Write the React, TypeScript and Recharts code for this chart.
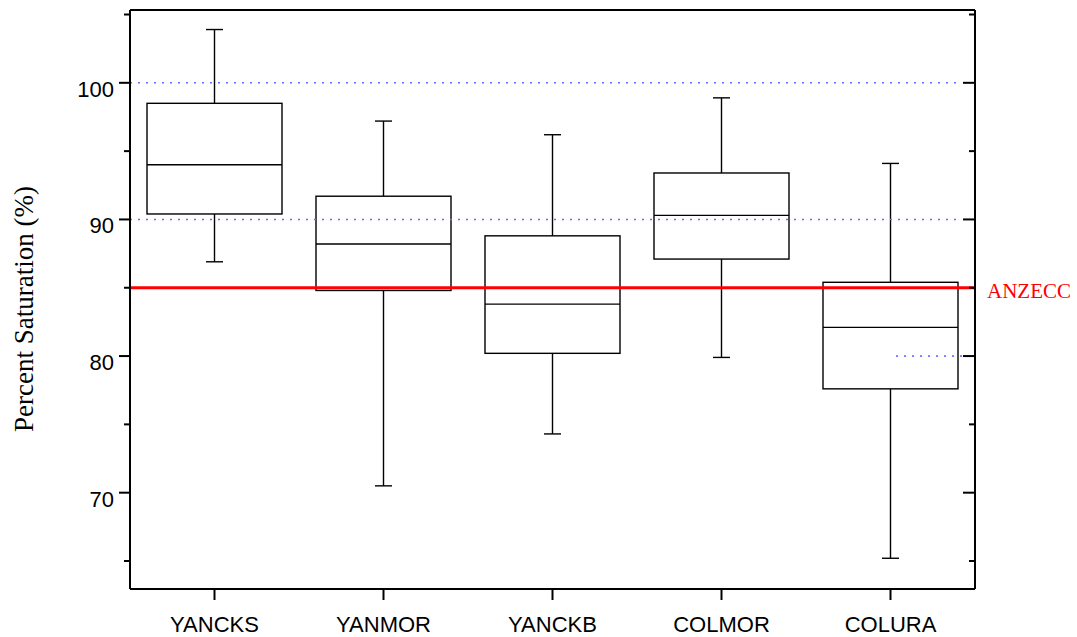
import React from "react";
import {
  Bar,
  ComposedChart,
  ReferenceLine,
  XAxis,
  YAxis,
} from "recharts";

const sites = ["YANCKS", "YANMOR", "YANCKB", "COLMOR", "COLURA"];
const whiskerLow = [86.9, 70.5, 74.3, 79.9, 65.2];
const q1 = [90.4, 84.8, 80.2, 87.1, 77.6];
const median = [94.0, 88.2, 83.8, 90.3, 82.1];
const q3 = [98.5, 91.7, 88.8, 93.4, 85.4];
const whiskerHigh = [103.9, 97.2, 96.2, 98.9, 94.1];

const majorTicks = [70, 80, 90, 100];
const minorTicks = [65, 75, 85, 95, 105];
const allTicks = [...minorTicks, ...majorTicks].sort((a, b) => a - b);

const anzecc = 85;
const guideLines = [90, 100];
const partialGuide = 80;

const data = sites.map((site, i) => ({
  site,
  pos: i + 0.5,
  range: [whiskerLow[i], whiskerHigh[i]],
  low: whiskerLow[i],
  q1: q1[i],
  median: median[i],
  q3: q3[i],
  high: whiskerHigh[i],
}));

const sans = "'Liberation Sans', Arial, sans-serif";
const serif = "'Liberation Serif', 'Times New Roman', serif";

function BoxShape(props: any) {
  const { x, y, width, height, payload } = props;
  if (payload == null || height == null) return null;
  const perUnit = height / (payload.high - payload.low);
  const toY = (v: number) => y + (payload.high - v) * perUnit;
  const cx = x + width / 2;
  const cap = 8.5;
  const yQ3 = toY(payload.q3);
  const yQ1 = toY(payload.q1);
  const yMed = toY(payload.median);
  const yLow = toY(payload.low);
  return (
    <g stroke="#000" strokeWidth={1.4} fill="none">
      <line x1={cx} x2={cx} y1={y} y2={yQ3} />
      <line x1={cx - cap} x2={cx + cap} y1={y} y2={y} />
      <line x1={cx} x2={cx} y1={yQ1} y2={yLow} />
      <line x1={cx - cap} x2={cx + cap} y1={yLow} y2={yLow} />
      <rect x={x} y={yQ3} width={width} height={yQ1 - yQ3} />
      <line x1={x} x2={x + width} y1={yMed} y2={yMed} />
    </g>
  );
}

function LeftTick(props: any) {
  const { x, y, payload } = props;
  const v = payload.value;
  const major = majorTicks.includes(v);
  const len = major ? 11 : 6;
  return (
    <g>
      <line x1={x - len} x2={x} y1={y} y2={y} stroke="#000" strokeWidth={2} />
      {major ? (
        <text
          x={x - len - 5}
          y={y}
          dy={14}
          textAnchor="end"
          fontSize={22}
          fontFamily={sans}
          fill="#000"
        >
          {v}
        </text>
      ) : null}
    </g>
  );
}

function RightTick(props: any) {
  const { x, y, payload } = props;
  const len = majorTicks.includes(payload.value) ? 12 : 6;
  return <line x1={x - len} x2={x} y1={y} y2={y} stroke="#000" strokeWidth={2} />;
}

export default function App() {
  return (
    <div style={{ position: "absolute", left: 0, top: 0 }}>
      <ComposedChart
        width={1077}
        height={637}
        data={data}
        margin={{ top: 9, right: 100, bottom: 0, left: 70 }}
      >
        <XAxis
          xAxisId="b"
          dataKey="site"
          height={48}
          interval={0}
          tickSize={11}
          tickMargin={16}
          axisLine={{ stroke: "#000", strokeWidth: 2 }}
          tickLine={{ stroke: "#000", strokeWidth: 2 }}
          tick={{ fill: "#000", fontSize: 22, fontFamily: sans }}
        />
        <XAxis
          xAxisId="t"
          orientation="top"
          dataKey="site"
          height={1}
          tick={false}
          tickLine={false}
          axisLine={{ stroke: "#000", strokeWidth: 2 }}
        />
        <XAxis
          xAxisId="n"
          dataKey="pos"
          type="number"
          domain={[0, 5]}
          allowDataOverflow
          hide
        />
        <YAxis
          yAxisId="l"
          width={60}
          domain={[62.95, 105.33]}
          allowDataOverflow
          ticks={allTicks}
          interval={0}
          tickSize={0}
          tickMargin={0}
          tickLine={false}
          axisLine={{ stroke: "#000", strokeWidth: 2 }}
          tick={LeftTick}
          label={{
            content: () => (
              <text
                x={33}
                y={309}
                transform="rotate(-90 33 309)"
                textAnchor="middle"
                fontSize={27}
                fontFamily={serif}
                fill="#000"
              >
                Percent Saturation (%)
              </text>
            ),
          }}
        />
        <YAxis
          yAxisId="r"
          orientation="right"
          width={2}
          domain={[62.95, 105.33]}
          allowDataOverflow
          ticks={allTicks}
          interval={0}
          tickSize={0}
          tickMargin={0}
          tickLine={false}
          axisLine={{ stroke: "#000", strokeWidth: 2 }}
          tick={RightTick}
        />
        <Bar
          xAxisId="b"
          yAxisId="l"
          dataKey="range"
          barSize={135}
          shape={BoxShape}
          activeBar={false}
          isAnimationActive={false}
        />
        {guideLines.map((v) => (
          <ReferenceLine
            key={v}
            xAxisId="n"
            yAxisId="l"
            segment={[
              { x: 0, y: v },
              { x: 4.923, y: v },
            ]}
            ifOverflow="visible"
            stroke="#6b6bff"
            strokeWidth={1.6}
            strokeDasharray="2 6"
          />
        ))}
        <ReferenceLine
          xAxisId="n"
          yAxisId="l"
          segment={[
            { x: 4.533, y: partialGuide },
            { x: 4.923, y: partialGuide },
          ]}
          ifOverflow="visible"
          stroke="#0000ff"
          strokeWidth={1}
          strokeDasharray="2 6"
        />
        <ReferenceLine
          xAxisId="b"
          yAxisId="l"
          y={anzecc}
          stroke="#ff0000"
          strokeWidth={3}
          label={{
            value: "ANZECC",
            position: "right",
            offset: 12,
            dy: 3,
            fill: "#ff0000",
            fontSize: 21,
            fontFamily: serif,
          }}
        />
      </ComposedChart>
    </div>
  );
}
